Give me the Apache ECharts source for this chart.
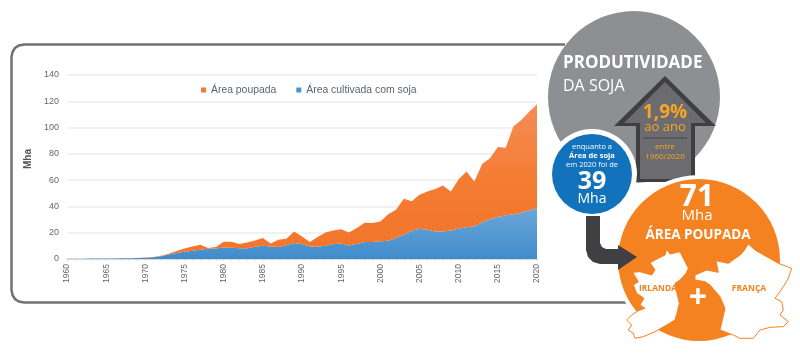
<!DOCTYPE html>
<html>
<head>
<meta charset="utf-8">
<style>html,body{margin:0;padding:0;background:#fff;}#main{width:800px;height:353px;}</style>
<script src="https://cdn.jsdelivr.net/npm/echarts@6/dist/echarts.min.js"></script>
</head>
<body>
<div id="main"></div>
<script>
var years = [];
for (var y = 1960; y <= 2020; y++) years.push(String(y));

var cultivada = [0.2,0.2,0.2,0.3,0.3,0.4,0.4,0.5,0.6,0.8,
    1.0,1.4,2.0,3.4,4.5,5.5,6.2,7.0,7.8,8.0,
    8.7,8.5,8.2,8.2,9.4,10.0,9.5,9.2,10.5,12.2,
    11.5,9.6,9.4,10.0,11.4,11.7,10.3,11.4,13.0,13.0,
    13.6,13.9,16.0,18.4,21.5,23.0,22.2,21.0,21.0,21.7,
    23.3,24.2,25.0,27.9,30.3,32.0,33.3,34.0,35.2,37.0,38.7];
var poupada = [0,0,0,0,0,0,0,0,0,0,
    0.1,0.2,0.5,0.6,1.6,2.4,3.4,3.9,0.6,1.2,
    4.5,4.6,3.2,4.4,4.6,6.0,2.2,5.4,5.0,8.8,
    5.7,3.3,7.3,10.2,10.3,11.0,9.9,12.1,14.6,14.3,
    15.0,20.1,21.4,27.4,22.5,25.8,29.1,32.3,34.9,29.6,
    37.4,42.3,34.0,44.4,46.3,53.2,51.4,67.0,70.5,75.0,79.1];

var FONT = '"Open Sans", sans-serif';
var ORANGE = '#f58220';

function pts(list, x0, y0) {
    return list.map(function (p) { return [x0 + p[0] / 3, y0 + p[1] / 3]; });
}
var irlanda = pts([[90,68],[115,55],[135,45],[140,28],[150,42],[180,35],[195,65],[205,85],[198,100],[180,120],[165,130],[172,165],[178,190],[172,215],[165,240],[140,255],[105,275],[70,290],[45,295],[40,280],[25,270],[35,255],[20,240],[35,225],[55,212],[75,205],[60,195],[72,175],[50,160],[40,135],[55,125],[38,97],[60,95],[95,105],[105,90]], 620, 240);
var franca = pts([[15,105],[50,90],[85,97],[78,62],[115,70],[150,45],[160,35],[175,12],[195,30],[230,50],[265,70],[305,85],[295,115],[280,140],[255,175],[275,185],[280,210],[270,225],[295,245],[280,260],[240,262],[210,270],[190,295],[150,295],[130,285],[90,270],[97,240],[105,205],[90,170],[60,135],[45,125],[15,120]], 690, 240);

function txt(x, y, text, size, color, weight, align) {
    return {
        type: 'text', z: 20,
        style: {
            x: x, y: y, text: text, fill: color, align: align || 'center', verticalAlign: 'middle',
            font: (weight || 'normal') + ' ' + size + 'px ' + FONT
        }
    };
}
function circle(cx, cy, r, color, z) {
    return { type: 'circle', z: z, shape: { cx: cx, cy: cy, r: r }, style: { fill: color } };
}
function poly(points, fill, z, stroke, lw) {
    return { type: 'polygon', z: z, shape: { points: points }, style: { fill: fill, stroke: stroke || null, lineWidth: lw || 0 } };
}

var overlay = [
    // frame round the chart
    { type: 'polyline', z: 5,
      shape: { points: [[565,44.5],[24,44.5],[19,45.5],[15,48],[12.5,52],[11.5,57],[11.5,290],[12.5,295],[15,299],[19,301.5],[24,302.5],[632,302.5]] },
      style: { fill: null, stroke: '#717173', lineWidth: 2.5 } },

    // productivity circle and arrow
    circle(634, 97, 86, '#8e8f92', 10),
    poly([[665,76],[716,126],[695,126],[695,182],[636,182],[636,126],[614,126]], '#3f3f43', 11),
    poly([[665,82],[706,123],[691,123],[691,179],[640,179],[640,123],[624,123]], '#6c6c70', 12),
    txt(563, 63, 'PRODUTIVIDADE', 17, '#fff', 'bold', 'left'),
    txt(563, 86, 'DA SOJA', 16, '#fff', 'normal', 'left'),
    txt(665, 113, '1,9%', 19, '#f6a623', 'bold'),
    txt(665, 127, 'ao ano', 13, '#f6a623'),
    { type: 'line', z: 20, shape: { x1: 643, y1: 138, x2: 687, y2: 138 }, style: { stroke: '#46464a', lineWidth: 1 } },
    txt(665, 147, 'entre', 8, '#f6a623'),
    txt(665, 157, '1960/2020', 8, '#f6a623'),

    // blue circle
    circle(592, 174, 45, '#fff', 13),
    circle(592, 174, 40, '#1272bb', 14),
    txt(592, 147, 'enquanto a', 7.5, '#fff'),
    txt(592, 156, 'Área de soja', 7.5, '#fff', 'bold'),
    txt(592, 165, 'em 2020 foi de', 7.5, '#fff'),
    txt(592, 182, '39', 25, '#fff', 'bold'),
    txt(592, 199, 'Mha', 14, '#fff'),

    // orange circle with the maps
    circle(699, 260, 85, '#fff', 15),
    poly([[586,216],[600,216],[600,243],[602,247],[606,249],[618,249],[618,245],[637,257],[618,270],[618,264],[600,264],[593,262],[588,257],[586,250]], '#404042', 16),
    circle(699, 260, 81, ORANGE, 15),
    poly(irlanda, '#fff', 17, ORANGE, 1),
    poly(franca, '#fff', 17, ORANGE, 1),
    txt(697, 197, '71', 30, '#fff', 'bold'),
    txt(697, 216, 'Mha', 15, '#fff'),
    txt(698, 235, 'ÁREA POUPADA', 13.5, '#fff', 'bold'),
    txt(698, 299, '+', 32, '#fff', 'bold'),
    txt(658, 289, 'IRLANDA', 8.5, ORANGE, 'bold'),
    txt(749, 289, 'FRANÇA', 8.5, ORANGE, 'bold')
];

var chart = echarts.init(document.getElementById('main'));
chart.setOption({
    backgroundColor: '#fff',
    animation: false,
    textStyle: { fontFamily: '"Liberation Sans", Arial, sans-serif' },
    legend: {
        left: 196, top: 80,
        itemWidth: 5, itemHeight: 5, itemGap: 20,
        icon: 'rect',
        data: ['Área poupada', 'Área cultivada com soja'],
        textStyle: { color: '#5b6473', fontSize: 10.4 }
    },
    grid: { left: 67, right: 263, top: 75, bottom: 94 },
    xAxis: {
        type: 'category',
        boundaryGap: false,
        data: years,
        axisLine: { lineStyle: { color: '#d9d9d9' } },
        axisTick: { interval: 0, length: 2, lineStyle: { color: '#d9d9d9' } },
        axisLabel: { interval: 4, rotate: 90, fontSize: 8.5, color: '#666', margin: 5 }
    },
    yAxis: {
        type: 'value', min: 0, max: 140, interval: 20,
        name: 'Mha', nameLocation: 'middle', nameGap: 31,
        nameTextStyle: { fontSize: 10, fontWeight: 'bold', color: '#555', padding: [0, 0, 0, 16] },
        axisLine: { show: false },
        axisTick: { show: false },
        axisLabel: { fontSize: 9, color: '#666', margin: 8 },
        splitLine: { lineStyle: { color: '#ececec', width: 1.5 } }
    },
    series: [
        {
            name: 'Área cultivada com soja', type: 'line', stack: 'area', data: cultivada,
            showSymbol: false, lineStyle: { width: 0 },
            itemStyle: { color: '#4a94d2' },
            areaStyle: { opacity: 1, color: new echarts.graphic.LinearGradient(0, 0, 0, 1, [
                { offset: 0, color: '#6ca6da' }, { offset: 1, color: '#3f8ccb' }]) }
        },
        {
            name: 'Área poupada', type: 'line', stack: 'area', data: poupada,
            showSymbol: false, lineStyle: { width: 0 },
            itemStyle: { color: '#f47b30' },
            areaStyle: { opacity: 1, color: new echarts.graphic.LinearGradient(0, 0, 0, 1, [
                { offset: 0, color: '#f58d55' }, { offset: 0.5, color: '#f47c33' }, { offset: 1, color: '#f2742a' }]) }
        }
    ],
    graphic: { elements: overlay }
});
window.addEventListener('resize', function () {
    chart.resize();
});
</script>
</body>
</html>
